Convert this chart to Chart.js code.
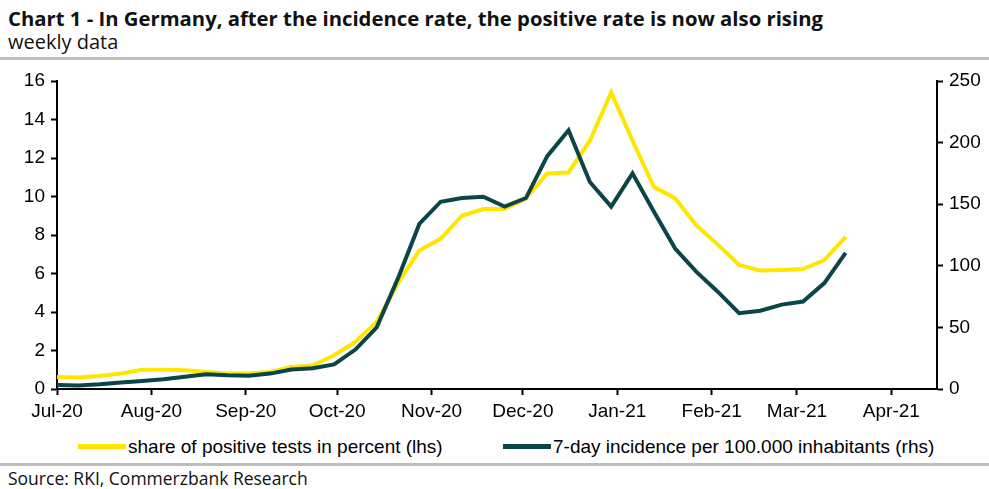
<!DOCTYPE html>
<html>
<head>
<meta charset="utf-8">
<script src="https://cdn.jsdelivr.net/npm/chart.js@4"></script>
<style>
  body { margin: 0; background: #fff; }
  #wrap { position: relative; width: 989px; height: 489px; overflow: hidden; font-family: "Open Sans", "DejaVu Sans", sans-serif; }
  #title { position: absolute; left: 8px; top: 4px; font-size: 20.3px; font-weight: 700; color: #111; white-space: nowrap; }
  #sub { position: absolute; left: 8px; top: 28px; font-size: 20px; color: #111; }
  .rule { position: absolute; left: 0; width: 989px; height: 3px; background: #bdbdbd; }
  #chartBox { position: absolute; left: 0; top: 62px; width: 989px; height: 365px; }
  #legend { position: absolute; top: 436px; left: 0; width: 989px; font-family: "Liberation Sans", Arial, sans-serif; font-size: 19px; color: #000; }
  .item { position: absolute; top: 0; white-space: nowrap; }
  .swatch { display: inline-block; width: 48px; height: 5px; vertical-align: middle; margin-right: 2px; position: relative; top: -1px; }
  #source { position: absolute; left: 8px; top: 466px; font-size: 17.5px; color: #111; }
</style>
</head>
<body>
<div id="wrap">
  <div id="title">Chart 1 - In Germany, after the incidence rate, the positive rate is now also rising</div>
  <div id="sub">weekly data</div>
  <div class="rule" style="top:57px"></div>
  <div id="chartBox"><canvas id="myChart"></canvas></div>
  <div id="legend">
    <span class="item" style="left:78px"><span class="swatch" style="background:#ffe500"></span>share of positive tests in percent (lhs)</span>
    <span class="item" style="left:503px"><span class="swatch" style="background:#0b4547"></span>7-day incidence per 100.000 inhabitants (rhs)</span>
  </div>
  <div class="rule" style="top:463px"></div>
  <div id="source">Source: RKI, Commerzbank Research</div>
</div>
<script>
// weekly observation dates
var weeks = ['2020-07-01', '2020-07-08', '2020-07-15', '2020-07-22', '2020-07-29',
    '2020-08-05', '2020-08-12', '2020-08-19', '2020-08-26',
    '2020-09-02', '2020-09-09', '2020-09-16', '2020-09-23', '2020-09-30',
    '2020-10-07', '2020-10-14', '2020-10-21', '2020-10-28',
    '2020-11-04', '2020-11-11', '2020-11-18', '2020-11-25',
    '2020-12-02', '2020-12-09', '2020-12-16', '2020-12-23', '2020-12-30',
    '2021-01-06', '2021-01-13', '2021-01-20', '2021-01-27',
    '2021-02-03', '2021-02-10', '2021-02-17', '2021-02-24',
    '2021-03-03', '2021-03-10', '2021-03-17'];

// share of positive tests in percent (lhs)
var positiveShare = [0.62, 0.60, 0.67, 0.80, 1.00, 1.00, 0.97, 0.88, 0.80,
    0.80, 0.88, 1.15, 1.22, 1.75, 2.45, 3.5, 5.5, 7.2,
    7.8, 9.0, 9.35, 9.35, 9.9, 11.2, 11.25, 12.9, 15.4,
    12.9, 10.5, 9.9, 8.5, 7.5, 6.45, 6.15, 6.18, 6.23, 6.7, 7.9];

// 7-day incidence per 100.000 inhabitants (rhs)
var incidence = [3.2, 2.8, 3.8, 5.2, 6.5, 8, 10, 12, 11.2,
    10.8, 12.5, 15.8, 16.8, 20, 32, 50, 90, 134,
    152, 155, 156, 148, 155, 189, 210, 168, 148,
    175, 144, 114, 95, 79, 61.5, 63.5, 68.5, 71, 86, 110.5];

var monthStarts = ['2020-07-01', '2020-08-01', '2020-09-01', '2020-10-01', '2020-11-01',
    '2020-12-01', '2021-01-01', '2021-02-01', '2021-03-01', '2021-04-01'];
var monthLabels = ['Jul-20', 'Aug-20', 'Sep-20', 'Oct-20', 'Nov-20',
    'Dec-20', 'Jan-21', 'Feb-21', 'Mar-21', 'Apr-21'];
var xEnd = '2021-04-16';

function dayNo(s) {
    var p = s.split('-');
    return (Date.UTC(+p[0], +p[1] - 1, +p[2]) - Date.UTC(2020, 6, 1)) / 86400000;
}

var monthDays = monthStarts.map(dayNo);

function points(values) {
    return values.map(function (v, i) { return { x: dayNo(weeks[i]), y: v }; });
}

var tickFont = { family: '"Liberation Sans", Arial, sans-serif', size: 19 };
var axisGrid = { drawOnChartArea: false, drawTicks: true, tickLength: 6, tickWidth: 2, tickColor: '#000' };
var axisBorder = { display: true, color: '#000', width: 2 };

new Chart(document.getElementById('myChart').getContext('2d'), {
    type: 'line',
    data: {
        datasets: [
            {
                label: 'share of positive tests in percent (lhs)',
                data: points(positiveShare),
                borderColor: '#ffe500',
                borderWidth: 4,
                pointRadius: 0,
                tension: 0,
                yAxisID: 'y',
                order: 2
            },
            {
                label: '7-day incidence per 100.000 inhabitants (rhs)',
                data: points(incidence),
                borderColor: '#0b4547',
                borderWidth: 4,
                pointRadius: 0,
                tension: 0,
                yAxisID: 'y2',
                order: 1
            }
        ]
    },
    options: {
        responsive: true,
        maintainAspectRatio: false,
        animation: false,
        layout: { padding: { top: 19, left: 0, right: 0, bottom: 0 } },
        plugins: { legend: { display: false }, tooltip: { enabled: false } },
        scales: {
            x: {
                type: 'linear',
                min: 0,
                max: dayNo(xEnd),
                afterBuildTicks: function (scale) {
                    scale.ticks = monthDays.map(function (d) { return { value: d }; });
                },
                afterFit: function (scale) { scale.height = 38; },
                ticks: {
                    autoSkip: false,
                    maxRotation: 0,
                    color: '#000',
                    font: tickFont,
                    padding: 5,
                    callback: function (v) {
                        var i = monthDays.indexOf(v);
                        return i >= 0 ? monthLabels[i] : '';
                    }
                },
                grid: axisGrid,
                border: axisBorder
            },
            y: {
                position: 'left',
                min: 0,
                max: 16,
                afterFit: function (scale) { scale.width = 57; },
                ticks: { stepSize: 2, color: '#000', font: tickFont, padding: 6 },
                grid: axisGrid,
                border: axisBorder
            },
            y2: {
                position: 'right',
                min: 0,
                max: 250,
                afterFit: function (scale) { scale.width = 52; },
                ticks: { stepSize: 50, color: '#000', font: tickFont, padding: 6 },
                grid: axisGrid,
                border: axisBorder
            }
        }
    }
});
</script>
</body>
</html>
